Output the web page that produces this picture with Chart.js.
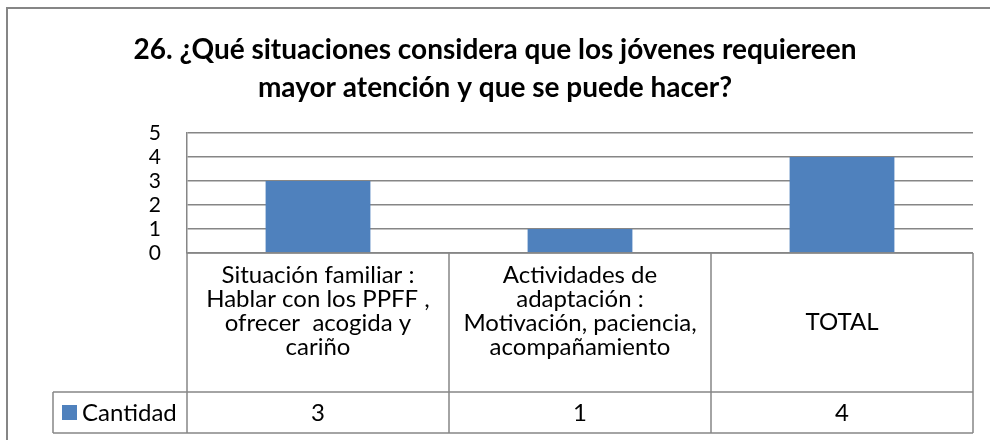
<!DOCTYPE html>
<html>
<head>
<meta charset="utf-8">
<script src="https://cdn.jsdelivr.net/npm/chart.js@4.4.1/dist/chart.umd.min.js"></script>
<style>
  html, body { margin: 0; padding: 0; background: #fff; }
</style>
</head>
<body>
<canvas id="myChart" width="990" height="440"></canvas>
<script>
// data
const titleLines = ['26. ¿Qué situaciones considera que los jóvenes requiereen', 'mayor atención y que se puede hacer?'];
const categoryLines = [
    ['Situación familiar :', 'Hablar con los PPFF ,', 'ofrecer  acogida y', 'cariño'],
    ['Actividades de', 'adaptación :', 'Motivación, paciencia,', 'acompañamiento'],
    ['TOTAL']
];
const seriesName = 'Cantidad';
const cantidad = [3, 1, 4];
const yMin = 0;
const yMax = 5;
const yStep = 1;

const FONT = 'Lato, "Open Sans", sans-serif';
const LINE = '#868686';
const BAR = '#4f81bd';

// draws the white background, the outer frame and the Excel-like data table under the plot
const dataTablePlugin = {
    id: 'dataTable',
    beforeDraw(chart) {
        const { ctx, width, height } = chart;
        ctx.save();
        ctx.fillStyle = '#fff';
        ctx.fillRect(0, 0, width, height);
        ctx.restore();
    },
    afterDraw(chart) {
        const { ctx, chartArea } = chart;
        const x = chart.scales.x;
        const n = categoryLines.length;
        const half = (chartArea.right - chartArea.left) / n / 2;
        const top = chartArea.bottom;
        const mid = 392;
        const bot = 433;
        const legendLeft = 53;

        ctx.save();
        // outer chart border
        ctx.strokeStyle = LINE;
        ctx.lineWidth = 2;
        ctx.strokeRect(7, 8, 1200, 1200);

        // table lines
        ctx.lineWidth = 1.5;
        ctx.beginPath();
        ctx.moveTo(chartArea.left, top); ctx.lineTo(chartArea.right, top);
        ctx.moveTo(legendLeft, mid); ctx.lineTo(chartArea.right, mid);
        ctx.moveTo(legendLeft, bot); ctx.lineTo(chartArea.right, bot);
        ctx.moveTo(legendLeft, mid); ctx.lineTo(legendLeft, bot);
        ctx.moveTo(chartArea.left, top); ctx.lineTo(chartArea.left, bot);
        for (let i = 0; i < n; i++) {
            const r = x.getPixelForValue(i) + half;
            ctx.moveTo(r, top); ctx.lineTo(r, bot);
        }
        ctx.stroke();

        // category text
        ctx.fillStyle = '#000';
        ctx.textAlign = 'center';
        ctx.textBaseline = 'middle';
        ctx.font = '24px ' + FONT;
        const lh = 24;
        categoryLines.forEach((lines, i) => {
            const cx = x.getPixelForValue(i);
            const blockMid = (top + mid) / 2 - (lines.length - 1) * 3.7;
            const cy = blockMid - (lines.length - 1) * lh / 2;
            lines.forEach((t, j) => ctx.fillText(t, cx, cy + j * lh));
            ctx.fillText(String(cantidad[i]), cx, (mid + bot) / 2 + 1);
        });

        // legend key
        ctx.fillStyle = BAR;
        ctx.fillRect(62, 405, 15, 15);
        ctx.fillStyle = '#000';
        ctx.textAlign = 'left';
        ctx.fillText(seriesName, 82, (mid + bot) / 2 + 1);
        ctx.restore();
    }
};

new Chart(document.getElementById('myChart'), {
    type: 'bar',
    data: {
        labels: categoryLines,
        datasets: [{
            label: seriesName,
            data: cantidad,
            backgroundColor: BAR,
            borderWidth: 0,
            categoryPercentage: 1,
            barPercentage: 0.4
        }]
    },
    options: {
        responsive: false,
        animation: false,
        layout: {
            padding: { left: 0, right: 0, top: 0, bottom: 187 }
        },
        plugins: {
            legend: { display: false },
            tooltip: { enabled: false },
            title: {
                display: true,
                text: titleLines,
                color: '#000',
                font: { family: FONT, size: 28, weight: 'bold', lineHeight: 38 / 28 },
                padding: { top: 31, bottom: 26 }
            }
        },
        scales: {
            x: {
                display: false
            },
            y: {
                min: yMin,
                max: yMax,
                afterFit: (scale) => { scale.width = 187; },
                border: { display: true, color: LINE, width: 1.5 },
                grid: { color: LINE, lineWidth: 1.5, drawTicks: false },
                ticks: {
                    stepSize: yStep,
                    autoSkip: false,
                    padding: 26,
                    color: '#000',
                    font: { family: FONT, size: 21 }
                }
            },
            // empty right-hand margin so the plot ends where the table does
            yRight: {
                position: 'right',
                display: true,
                afterFit: (scale) => { scale.width = 17; },
                border: { display: false },
                grid: { display: false },
                ticks: { display: false }
            }
        }
    },
    plugins: [dataTablePlugin]
});
</script>
</body>
</html>
